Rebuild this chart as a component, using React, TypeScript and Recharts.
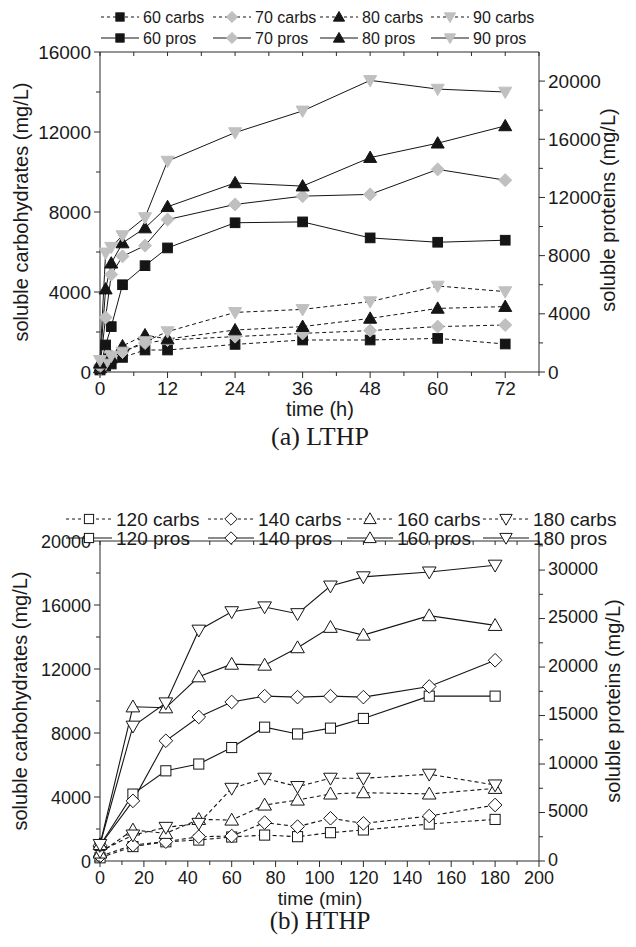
import React from 'react';
import { LineChart, Line, XAxis, YAxis } from 'recharts';

// ---------- (a) LTHP data ----------
const times1 = [0, 1, 2, 4, 8, 12, 24, 36, 48, 60, 72];
const carbs60 = [100, 300, 400, 730, 1100, 1100, 1380, 1600, 1600, 1680, 1400];
const carbs70 = [150, 500, 800, 1000, 1450, 1600, 1770, 1930, 2070, 2270, 2350];
const carbs80 = [200, 650, 700, 1300, 1850, 1650, 2100, 2270, 2680, 3180, 3270];
const carbs90 = [100, 400, 800, 1000, 1520, 2020, 2980, 3130, 3520, 4300, 4020];
const pros60 = [200, 1860, 3120, 6000, 7310, 8530, 10260, 10320, 9220, 8920, 9060];
const pros70 = [400, 3750, 6700, 7950, 8690, 10480, 11520, 12090, 12210, 13930, 13190];
const pros80 = [600, 5700, 7480, 8870, 9900, 11360, 13000, 12780, 14740, 15730, 16920];
const pros90 = [800, 8190, 8580, 9380, 10620, 14500, 16460, 17950, 20050, 19450, 19250];
const xTicks1 = [0, 6, 12, 18, 24, 30, 36, 42, 48, 54, 60, 66, 72, 78];
const leftTicks1 = [0, 2000, 4000, 6000, 8000, 10000, 12000, 14000, 16000];
const rightTicks1 = [0, 2000, 4000, 6000, 8000, 10000, 12000, 14000, 16000, 18000, 20000];

// ---------- (b) HTHP data ----------
const times2 = [0, 15, 30, 45, 60, 75, 90, 105, 120, 150, 180];
const carbs120 = [200, 900, 1200, 1310, 1500, 1620, 1520, 1770, 1940, 2310, 2600];
const carbs140 = [300, 1000, 1210, 1520, 1560, 2400, 2150, 2670, 2350, 2810, 3500];
const carbs160 = [500, 1940, 1730, 2600, 2560, 3500, 3810, 4190, 4270, 4190, 4540];
const carbs180 = [600, 1620, 2100, 2350, 4540, 5170, 4650, 5170, 5170, 5420, 4750];
const pros120 = [1600, 6900, 9300, 10000, 11700, 13800, 13100, 13700, 14700, 17000, 17000];
const pros140 = [1600, 6200, 12400, 14850, 16400, 17000, 16900, 17000, 16900, 18000, 20700];
const pros160 = [1700, 15900, 15800, 19000, 20300, 20200, 22000, 24100, 23300, 25300, 24300];
const pros180 = [1700, 13900, 16300, 23800, 25700, 26200, 25500, 28350, 29300, 29800, 30500];
const xTicks2 = [0, 10, 20, 30, 40, 50, 60, 70, 80, 90, 100, 110, 120, 130, 140, 150, 160, 170, 180, 190, 200];
const leftTicks2 = [0, 2000, 4000, 6000, 8000, 10000, 12000, 14000, 16000, 18000, 20000];
const rightTicks2 = [0, 2500, 5000, 7500, 10000, 12500, 15000, 17500, 20000, 22500, 25000, 27500, 30000, 32500];

const data1 = times1.map((t, i) => ({
  t,
  c60: carbs60[i], c70: carbs70[i], c80: carbs80[i], c90: carbs90[i],
  p60: pros60[i], p70: pros70[i], p80: pros80[i], p90: pros90[i],
}));
const data2 = times2.map((t, i) => ({
  t,
  c120: carbs120[i], c140: carbs140[i], c160: carbs160[i], c180: carbs180[i],
  p120: pros120[i], p140: pros140[i], p160: pros160[i], p180: pros180[i],
}));

const BLACK = '#151515';
const GREY = '#c0c0c0';
const AXIS = '#2a2a2a';
const TXT = '#1a1a1a';
const SANS = '"Liberation Sans", Arial, Helvetica, sans-serif';
const SERIF = '"Liberation Serif", "Times New Roman", serif';

type Shape = 'square' | 'diamond' | 'up' | 'down';

function Marker({ shape, cx, cy, k, fill, stroke }: { shape: Shape; cx: number; cy: number; k: number; fill: string; stroke: string }) {
  const sw = 1;
  if (shape === 'square') {
    const h = 4.6 * k;
    return <rect x={cx - h} y={cy - h} width={2 * h} height={2 * h} fill={fill} stroke={stroke} strokeWidth={sw} />;
  }
  if (shape === 'diamond') {
    const h = 6.2 * k;
    return <polygon points={`${cx},${cy - h} ${cx + h},${cy} ${cx},${cy + h} ${cx - h},${cy}`} fill={fill} stroke={stroke} strokeWidth={sw} />;
  }
  const w = 6.2 * k;
  const a = 6.2 * k;
  const b = 4.6 * k;
  if (shape === 'up') {
    return <polygon points={`${cx},${cy - a} ${cx + w},${cy + b} ${cx - w},${cy + b}`} fill={fill} stroke={stroke} strokeWidth={sw} />;
  }
  return <polygon points={`${cx},${cy + a} ${cx + w},${cy - b} ${cx - w},${cy - b}`} fill={fill} stroke={stroke} strokeWidth={sw} />;
}

function makeDot(id: string, shape: Shape, k: number, fill: string, stroke: string) {
  return (p: any) => {
    if (p.cx == null || p.cy == null || p.value == null) return <g key={`${id}-${p.index}`} />;
    return (
      <g key={`${id}-${p.index}`}>
        <Marker shape={shape} cx={p.cx} cy={p.cy} k={k} fill={fill} stroke={stroke} />
      </g>
    );
  };
}

function bottomTick(isMajor: (v: number) => boolean, fs: number, dy: number) {
  return (props: any) => {
    const { x, y, payload } = props;
    const v = payload.value;
    const M = isMajor(v);
    return (
      <g>
        <line x1={x} x2={x} y1={y} y2={y + (M ? 6 : 4)} stroke={AXIS} strokeWidth={1} />
        {M && (
          <text x={x} y={y + dy} textAnchor="middle" fontSize={fs} fontFamily={SANS} fill={TXT}>
            {v}
          </text>
        )}
      </g>
    );
  };
}
function topTick() {
  return (props: any) => {
    const { x, y } = props;
    return <line x1={x} x2={x} y1={y} y2={y + 4} stroke={AXIS} strokeWidth={1} />;
  };
}
function leftTick(isMajor: (v: number) => boolean, fs: number) {
  return (props: any) => {
    const { x, y, payload } = props;
    const v = payload.value;
    const M = isMajor(v);
    return (
      <g>
        <line x1={x} x2={x - (M ? 6 : 4)} y1={y} y2={y} stroke={AXIS} strokeWidth={1} />
        {M && (
          <text x={x - 9} y={y + 6.5} textAnchor="end" fontSize={fs} fontFamily={SANS} fill={TXT}>
            {v}
          </text>
        )}
      </g>
    );
  };
}
function rightTick(isMajor: (v: number) => boolean, fs: number, dy: number) {
  return (props: any) => {
    const { x, y, payload } = props;
    const v = payload.value;
    const M = isMajor(v);
    return (
      <g>
        <line x1={x} x2={x + (M ? 6 : 4)} y1={y} y2={y} stroke={AXIS} strokeWidth={1} />
        {M && (
          <text x={x + 9} y={y + dy} textAnchor="start" fontSize={fs} fontFamily={SANS} fill={TXT}>
            {v}
          </text>
        )}
      </g>
    );
  };
}

type Series = { key: string; label: string; shape: Shape; fill: string; stroke: string; axis: 'left' | 'right'; dashed: boolean };

const series1: Series[] = [
  { key: 'c60', label: '60 carbs', shape: 'square', fill: BLACK, stroke: BLACK, axis: 'left', dashed: true },
  { key: 'c70', label: '70 carbs', shape: 'diamond', fill: GREY, stroke: GREY, axis: 'left', dashed: true },
  { key: 'c80', label: '80 carbs', shape: 'up', fill: BLACK, stroke: BLACK, axis: 'left', dashed: true },
  { key: 'c90', label: '90 carbs', shape: 'down', fill: GREY, stroke: GREY, axis: 'left', dashed: true },
  { key: 'p60', label: '60 pros', shape: 'square', fill: BLACK, stroke: BLACK, axis: 'right', dashed: false },
  { key: 'p70', label: '70 pros', shape: 'diamond', fill: GREY, stroke: GREY, axis: 'right', dashed: false },
  { key: 'p80', label: '80 pros', shape: 'up', fill: BLACK, stroke: BLACK, axis: 'right', dashed: false },
  { key: 'p90', label: '90 pros', shape: 'down', fill: GREY, stroke: GREY, axis: 'right', dashed: false },
];
const series2: Series[] = [
  { key: 'c120', label: '120 carbs', shape: 'square', fill: '#fff', stroke: BLACK, axis: 'left', dashed: true },
  { key: 'c140', label: '140 carbs', shape: 'diamond', fill: '#fff', stroke: BLACK, axis: 'left', dashed: true },
  { key: 'c160', label: '160 carbs', shape: 'up', fill: '#fff', stroke: BLACK, axis: 'left', dashed: true },
  { key: 'c180', label: '180 carbs', shape: 'down', fill: '#fff', stroke: BLACK, axis: 'left', dashed: true },
  { key: 'p120', label: '120 pros', shape: 'square', fill: '#fff', stroke: BLACK, axis: 'right', dashed: false },
  { key: 'p140', label: '140 pros', shape: 'diamond', fill: '#fff', stroke: BLACK, axis: 'right', dashed: false },
  { key: 'p160', label: '160 pros', shape: 'up', fill: '#fff', stroke: BLACK, axis: 'right', dashed: false },
  { key: 'p180', label: '180 pros', shape: 'down', fill: '#fff', stroke: BLACK, axis: 'right', dashed: false },
];

function LegendOverlay({ list, cols, rows, symW, gap, fs, k }: { list: Series[]; cols: number[]; rows: number[]; symW: number; gap: number; fs: number; k: number }) {
  return (
    <>
      {list.map((s, i) => {
        const x = cols[i % 4];
        const y = rows[Math.floor(i / 4)];
        return (
          <g key={s.key}>
            <line x1={x} x2={x + symW} y1={y} y2={y} stroke={BLACK} strokeWidth={1} strokeDasharray={s.dashed ? '3 3' : undefined} />
            <Marker shape={s.shape} cx={x + symW / 2} cy={y} k={k} fill={s.fill} stroke={s.stroke} />
            <text x={x + symW + gap} y={y + fs * 0.36} fontSize={fs} fontFamily={SANS} fill={TXT}>
              {s.label}
            </text>
          </g>
        );
      })}
    </>
  );
}

function Panel({ data, list, xTicks, xMajor, xDomain, xFs, xDy, leftTicks, leftMajor, leftDomain, rightTicks, rightMajor, rightDomain, yFs, rDy, width, height, margin, k, lw }: any) {
  return (
    <LineChart width={width} height={height} data={data} margin={margin}>
      <XAxis xAxisId="b" dataKey="t" type="number" domain={xDomain} ticks={xTicks} interval={0} height={30}
        axisLine={{ stroke: AXIS }} tickLine={false} tickSize={0} tickMargin={0} tick={bottomTick(xMajor, xFs, xDy)} />
      <XAxis xAxisId="top" orientation="top" dataKey="t" type="number" domain={xDomain} ticks={xTicks} interval={0} height={1}
        axisLine={{ stroke: AXIS }} tickLine={false} tickSize={0} tickMargin={0} tick={topTick()} />
      <YAxis yAxisId="left" type="number" domain={leftDomain} ticks={leftTicks} interval={0} width={60}
        axisLine={{ stroke: AXIS }} tickLine={false} tickSize={0} tickMargin={0} tick={leftTick(leftMajor, yFs)} />
      <YAxis yAxisId="right" orientation="right" type="number" domain={rightDomain} ticks={rightTicks} interval={0} width={60}
        axisLine={{ stroke: AXIS }} tickLine={false} tickSize={0} tickMargin={0} tick={rightTick(rightMajor, yFs, rDy)} />
      {list.map((s: Series) => (
        <Line key={s.key} xAxisId="b" yAxisId={s.axis} dataKey={s.key} type="linear" stroke={BLACK}
          strokeWidth={lw} strokeDasharray={s.dashed ? '4 3' : undefined}
          dot={makeDot(s.key, s.shape, k, s.fill, s.stroke)} activeDot={false} isAnimationActive={false} />
      ))}
    </LineChart>
  );
}

export default function App() {
  return (
    <div style={{ position: 'absolute', left: 0, top: 0, width: 636, height: 947, background: '#fff' }}>
      <div style={{ position: 'absolute', left: 0, top: 0, width: 636, height: 460 }}>
        <Panel data={data1} list={series1} xTicks={xTicks1} xMajor={(v: number) => v % 12 === 0 && v <= 72} xDomain={[0, 78]} xFs={19} xDy={23}
          leftTicks={leftTicks1} leftMajor={(v: number) => v % 4000 === 0} leftDomain={[0, 16000]}
          rightTicks={rightTicks1} rightMajor={(v: number) => v % 4000 === 0} rightDomain={[0, 22000]} yFs={19} rDy={6.5}
          width={636} height={460} margin={{ top: 51, right: 37, bottom: 58, left: 40 }} k={1.05} lw={1} />
        <svg width={636} height={460} style={{ position: 'absolute', left: 0, top: 0, pointerEvents: 'none' }}>
          <LegendOverlay list={series1} cols={[101, 213, 320, 431]} rows={[17, 38]} symW={38} gap={4} fs={16} k={0.9} />
          <text transform="translate(28,212) rotate(-90)" textAnchor="middle" fontSize={20} fontFamily={SANS} fill={TXT}>
            soluble carbohydrates  (mg/L)
          </text>
          <text transform="translate(615,210) rotate(-90)" textAnchor="middle" fontSize={20} fontFamily={SANS} fill={TXT}>
            soluble proteins  (mg/L)
          </text>
          <text x={320} y={416} textAnchor="middle" fontSize={20} fontFamily={SANS} fill={TXT}>time (h)</text>
          <text x={320} y={445} textAnchor="middle" fontSize={26} fontFamily={SERIF} fill={TXT}>(a) LTHP</text>
        </svg>
      </div>
      <div style={{ position: 'absolute', left: 0, top: 470, width: 636, height: 477 }}>
        <Panel data={data2} list={series2} xTicks={xTicks2} xMajor={(v: number) => v % 20 === 0} xDomain={[0, 200]} xFs={18} xDy={23}
          leftTicks={leftTicks2} leftMajor={(v: number) => v % 4000 === 0} leftDomain={[0, 20000]}
          rightTicks={rightTicks2} rightMajor={(v: number) => v % 5000 === 0} rightDomain={[0, 33000]} yFs={18} rDy={4.5}
          width={636} height={477} margin={{ top: 70, right: 37, bottom: 56, left: 40 }} k={1.1} lw={1.1} />
        <svg width={636} height={477} style={{ position: 'absolute', left: 0, top: 0, pointerEvents: 'none' }}>
          <LegendOverlay list={series2} cols={[66, 208, 347, 483]} rows={[49, 68]} symW={46} gap={4} fs={19} k={1} />
          <text transform="translate(27,231) rotate(-90)" textAnchor="middle" fontSize={20} fontFamily={SANS} fill={TXT}>
            soluble carbohydrates (mg/L)
          </text>
          <text transform="translate(620,231) rotate(-90)" textAnchor="middle" fontSize={20} fontFamily={SANS} fill={TXT}>
            soluble proteins  (mg/L)
          </text>
          <text x={320} y={435} textAnchor="middle" fontSize={19} fontFamily={SANS} fill={TXT}>time (min)</text>
          <text x={320} y={459} textAnchor="middle" fontSize={25} fontFamily={SERIF} fill={TXT}>(b) HTHP</text>
        </svg>
      </div>
    </div>
  );
}
